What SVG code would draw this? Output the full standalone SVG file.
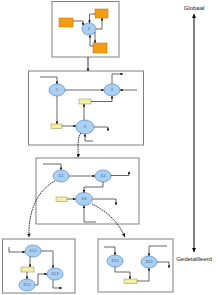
<svg xmlns="http://www.w3.org/2000/svg" width="220" height="295" viewBox="0 0 220 295">
<style>
.box{fill:#fff;stroke:#808080;stroke-width:1}
.proc{fill:#a9d0f2;stroke:#3f78c0;stroke-width:0.6}
.ext{fill:#f59d12;stroke:#b86e00;stroke-width:0.5}
.store{fill:#f4f0a0;stroke:#8a8a50;stroke-width:0.5}
.c{fill:none;stroke:#000;stroke-width:0.6;marker-end:url(#a)}
.cv{fill:none;stroke:#000;stroke-width:0.8;stroke-dasharray:1.6 0.7;marker-end:url(#b)}
.pl{font-family:"Liberation Sans",Arial,sans-serif;font-size:3.2px;fill:#1f3f80;text-anchor:middle}
.ax{font-family:"Liberation Sans",Arial,sans-serif;font-size:6px;fill:#222;text-anchor:middle}
</style>
<defs>
<marker id="a" viewBox="0 0 6 6" refX="6" refY="3" markerWidth="2.6" markerHeight="2.6" markerUnits="userSpaceOnUse" orient="auto"><path d="M0,0 L6,3 L0,6 z" fill="#000"/></marker>
<marker id="b" viewBox="0 0 6 6" refX="6" refY="3" markerWidth="3.5" markerHeight="3.5" markerUnits="userSpaceOnUse" orient="auto"><path d="M0,0 L6,3 L0,6 z" fill="#000"/></marker>
<marker id="c" viewBox="0 0 6 6" refX="6" refY="3" markerWidth="4" markerHeight="4" markerUnits="userSpaceOnUse" orient="auto-start-reverse"><path d="M0,0 L6,3 L0,6 z" fill="#000"/></marker>
</defs>

<g id="level0">
<rect class="box" x="52" y="1.5" width="67" height="55.5"/>
<rect class="ext" x="59" y="18" width="14" height="9"/>
<rect class="ext" x="95" y="9" width="13" height="9"/>
<rect class="ext" x="93" y="43" width="14" height="10"/>
<ellipse class="proc" cx="89" cy="29" rx="7" ry="6"/>
<text class="pl" x="89" y="30.2">0</text>
</g>

<g id="level1">
<rect class="box" x="28.5" y="71" width="115" height="74"/>
<ellipse class="proc" cx="57" cy="90" rx="8" ry="6"/>
<text class="pl" x="57" y="91.2">1</text>
<ellipse class="proc" cx="112" cy="90" rx="8" ry="6"/>
<text class="pl" x="112" y="91.2">2</text>
<ellipse class="proc" cx="85" cy="127" rx="9" ry="7"/>
<text class="pl" x="85" y="128.2">3</text>
<rect class="store" x="79" y="99" width="12" height="5"/>
<rect class="store" x="51" y="124" width="11" height="4.5"/>
</g>

<g id="level2">
<rect class="box" x="36" y="158" width="103" height="66"/>
<ellipse class="proc" cx="61" cy="176" rx="8" ry="6"/>
<text class="pl" x="61" y="177.2">3.1</text>
<ellipse class="proc" cx="103" cy="176" rx="8" ry="6"/>
<text class="pl" x="103" y="177.2">3.2</text>
<ellipse class="proc" cx="84" cy="199" rx="8.5" ry="6.5"/>
<text class="pl" x="84" y="200.2">3.3</text>
<rect class="store" x="56" y="197" width="11" height="4.5"/>
</g>

<g id="level3a">
<rect class="box" x="2.5" y="239" width="72.5" height="54"/>
<ellipse class="proc" cx="33" cy="251" rx="8" ry="6"/>
<text class="pl" x="33" y="252.2">3.1.1</text>
<ellipse class="proc" cx="27" cy="285" rx="8" ry="6"/>
<text class="pl" x="27" y="286.2">3.1.2</text>
<ellipse class="proc" cx="55" cy="274" rx="8" ry="6"/>
<text class="pl" x="55" y="275.2">3.1.3</text>
<rect class="store" x="21" y="267" width="13" height="5"/>
</g>

<g id="level3b">
<rect class="box" x="98" y="239" width="75" height="53"/>
<ellipse class="proc" cx="115" cy="261" rx="8" ry="6"/>
<text class="pl" x="115" y="262.2">3.3.1</text>
<ellipse class="proc" cx="149" cy="262" rx="8" ry="6"/>
<text class="pl" x="149" y="263.2">3.3.2</text>
<rect class="store" x="124" y="279" width="13" height="4.5"/>
</g>

<g id="axis">
<line x1="194" y1="14" x2="194" y2="252" stroke="#000" stroke-width="1" marker-start="url(#c)" marker-end="url(#c)"/>
<text class="ax" x="194" y="10">Globaal</text>
<text class="ax" x="194" y="261">Gedetailleerd</text>
</g>

<g id="connectors">
<path class="c" d="M73,21 H83 V25.5"/>
<path class="c" d="M95,14 H89.5 V23"/>
<path class="c" d="M96,29 H102 V18"/>
<path class="c" d="M93,46 H90 V35"/>
<path class="c" d="M95,32 V43"/>
<path class="c" d="M88,57 V71" style="stroke-width:0.8"/>

<path class="c" d="M40,77 H57 V84"/>
<path class="c" d="M65,90 H104"/>
<path class="c" d="M112,84 V74 H123"/>
<path class="c" d="M137,90 H120"/>
<path class="c" d="M91,101.5 H112 V96"/>
<path class="c" d="M84,120 V104"/>
<path class="c" d="M57,96 V124"/>
<path class="c" d="M62,126 H76"/>
<path class="c" d="M94,127 H108 V131"/>
<path class="c" d="M93,141 H85 V134"/>
<path class="cv" d="M81,133 C76,140 79,150 78,157.5"/>

<path class="c" d="M43,164 H61 V170"/>
<path class="c" d="M69,176 H95"/>
<path class="c" d="M111,175.5 H129 V171.5"/>
<path class="c" d="M103,182 V187 H84 V192.5"/>
<path class="c" d="M67,199 H75.5"/>
<path class="c" d="M92.5,199 H116 V205"/>
<path class="c" d="M96,222 H84 V205.5"/>
<path class="cv" d="M55,181 C38,190 28,210 29,237"/>
<path class="cv" d="M92,204 C108,212 118,222 125,237"/>

<path class="c" d="M9,247 V252 H25"/>
<path class="c" d="M41,251 H53 V268"/>
<path class="c" d="M30,256.5 V267"/>
<path class="c" d="M27,272 V279"/>
<path class="c" d="M35,285 H38 V274 H47"/>
<path class="c" d="M53,280 V288 H62"/>

<path class="c" d="M104,247 H115 V255"/>
<path class="c" d="M115,267 V272 H130 V279"/>
<path class="c" d="M137,281 H149 V268"/>
<path class="c" d="M167,246 H149 V256"/>
<path class="c" d="M157,262 H169 V268"/>
</g>
</svg>
